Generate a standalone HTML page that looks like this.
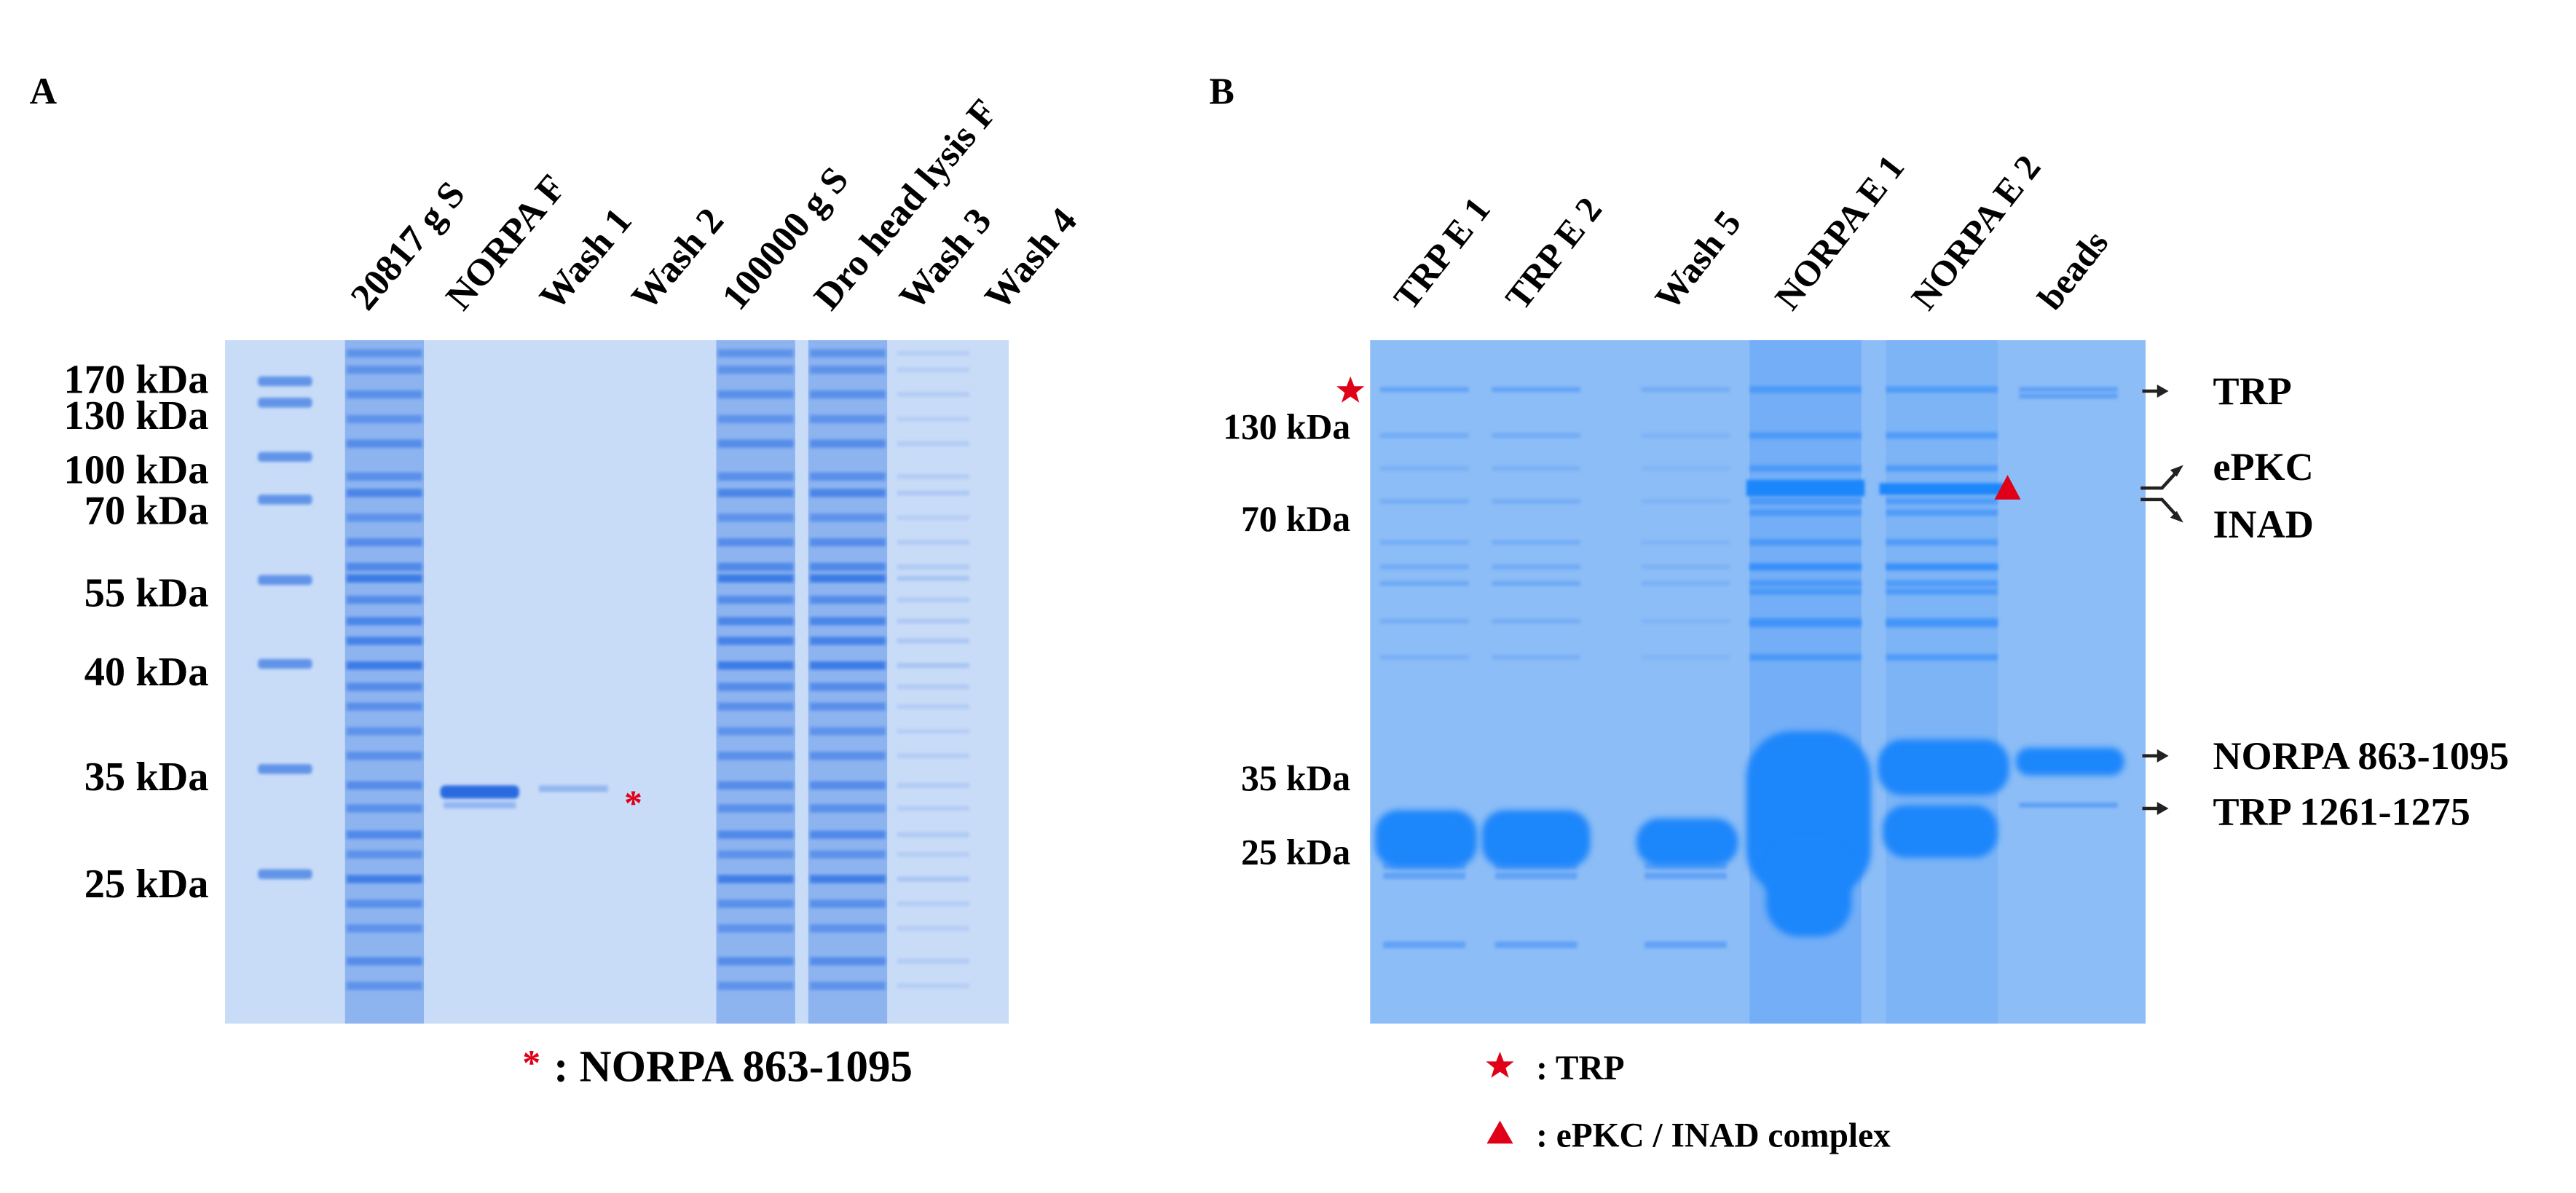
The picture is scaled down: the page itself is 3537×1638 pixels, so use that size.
<!DOCTYPE html>
<html><head><meta charset="utf-8"><style>
html,body{margin:0;padding:0;background:#fff}
svg{display:block}
text{font-family:"Liberation Serif",serif;font-weight:bold;fill:#000}
</style></head><body>
<svg id="fig" width="3537" height="1638" viewBox="0 0 1568 726" xmlns="http://www.w3.org/2000/svg">
<defs>
<filter id="blur1" x="-20%" y="-200%" width="140%" height="500%"><feGaussianBlur stdDeviation="0.9"/></filter>
<filter id="blur2" x="-20%" y="-50%" width="140%" height="200%"><feGaussianBlur stdDeviation="2"/></filter>
</defs>
<text x="18" y="63" font-size="23">A</text>
<text x="736" y="63" font-size="23">B</text>
<rect x="137" y="207" width="477" height="416" fill="#c9dcf7"/>
<rect x="834" y="207" width="472" height="416" fill="#8dbdf6"/>
<g id="gA"></g><g id="gB"></g><g id="labels"></g>
<text x="318" y="654" font-size="22" style="fill:#e00018">*</text>
<text x="337" y="658" font-size="27">: NORPA 863-1095</text>
<text x="380" y="496" font-size="22" style="fill:#e00018">*</text>
<polygon points="913,640 915.3,646 921.5,646 916.5,650 918.4,656 913,652.3 907.6,656 909.5,650 904.5,646 910.7,646" fill="#e00018"/>
<text x="935" y="657" font-size="21">: TRP</text>
<polygon points="913,682 921,696 905,696" fill="#e00018"/>
<text x="935" y="698" font-size="21">: ePKC / INAD complex</text>
<polygon points="822,229 824.3,235 830.5,235 825.5,239 827.4,245 822,241.3 816.6,245 818.5,239 813.5,235 819.7,235" fill="#e00018"/>
<polygon points="1222,289 1230,304 1214,304" fill="#e00018"/>
<g stroke="#222" stroke-width="2" fill="none">
<line x1="1304" y1="238" x2="1316" y2="238"/><line x1="1304" y1="460" x2="1316" y2="460"/><line x1="1304" y1="492" x2="1316" y2="492"/>
<path d="M1303,297 H1316 L1326,286 M1303,304 H1316 L1326,315"/>
</g>
<g fill="#222"><polygon points="1320,238 1313,234 1313,242"/><polygon points="1320,460 1313,456 1313,464"/><polygon points="1320,492 1313,488 1313,496"/><polygon points="1329,283 1321,286 1325,290"/><polygon points="1329,318 1321,315 1325,311"/></g>
<text x="1347" y="246" font-size="24">TRP</text>
<text x="1347" y="292" font-size="24">ePKC</text>
<text x="1347" y="327" font-size="24">INAD</text>
<text x="1347" y="468" font-size="24">NORPA 863-1095</text>
<text x="1347" y="502" font-size="24">TRP 1261-1275</text>
</svg>
<script>
const NS="http://www.w3.org/2000/svg";
const markerA=["170 kDa","130 kDa","100 kDa","70 kDa","55 kDa","40 kDa","35 kDa","25 kDa"];
const markerAy=[230,252,285,310,360,408,472,537];
const markerB=["130 kDa","70 kDa","35 kDa","25 kDa"];
const markerBy=[258,314,472,517];
const lanesA=["20817 g S","NORPA F","Wash 1","Wash 2","100000 g S","Dro head lysis F","Wash 3","Wash 4"];
const lanesB=["TRP E 1","TRP E 2","Wash 5","NORPA E 1","NORPA E 2","beads"];
const laneAx=[234,292,349,405,460,516,568,620];
const laneBx=[867,935,1026,1099,1182,1259];
const ladderY=[232,245,278,304,353,404,468,532];
const lysateY=[215,225,240,255,270,290,300,315,330,345,352,365,378,390,405,418,430,445,460,478,492,508,520,535,550,565,585,600];
const lysateI=[.5,.5,.55,.5,.6,.55,.7,.5,.6,.65,.85,.6,.7,.75,.85,.6,.55,.5,.55,.6,.55,.65,.5,.8,.55,.5,.6,.5];
const bgBandY=[237,265,285,305,330,345,355,378,400];
const bgBandI=[.55,.35,.25,.3,.3,.35,.4,.3,.25];
function el(tag,attrs,parent){const e=document.createElementNS(NS,tag);for(const k in attrs)e.setAttribute(k,attrs[k]);parent.appendChild(e);return e;}
const gA=document.getElementById('gA'),gB=document.getElementById('gB'),L=document.getElementById('labels');
ladderY.forEach((y,i)=>{const r=el('rect',{x:157,y:y-3,width:33,height:6,rx:2,fill:'#4f88e6',opacity:0.85,filter:'url(#blur1)'},gA);

});
[0,4,5].forEach(li=>{const cx=laneAx[li];
 const bg=el('rect',{x:cx-24,y:207,width:48,height:416,fill:'#7aa7ee',opacity:0.75},gA);
 
 
 lysateY.forEach((y,j)=>{const b=el('rect',{x:cx-23,y:y-2.5,width:46,height:5,fill:'#2f72e4',opacity:lysateI[j],filter:'url(#blur1)'},gA);
 
 });});
lysateY.forEach((y,j)=>{const b=el('rect',{x:laneAx[6]-22,y:y-1.5,width:44,height:3,fill:'#6f9ded',opacity:lysateI[j]*0.45,filter:'url(#blur1)'},gA);

});
let nb=el('rect',{x:268,y:478,width:48,height:8,rx:3,fill:'#2a6be0',filter:'url(#blur1)'},gA);


nb=el('rect',{x:270,y:488,width:44,height:4,fill:'#6f9ded',opacity:.6,filter:'url(#blur1)'},gA);


nb=el('rect',{x:328,y:478,width:42,height:4,fill:'#7aa6ee',opacity:.7,filter:'url(#blur1)'},gA);


[0,1,2].forEach(li=>{const cx=laneBx[li];
 bgBandY.forEach((y,j)=>{const b=el('rect',{x:cx-27,y:y-1.5,width:54,height:3,fill:'#3d8cf5',opacity:bgBandI[j]*(li==2?0.6:1),filter:'url(#blur1)'},gB);
 
 });
 [527,533,575].forEach(y=>{const b=el('rect',{x:cx-25,y:y-2,width:50,height:4,fill:'#3d8cf5',opacity:.55,filter:'url(#blur1)'},gB);
 
 });
 const big=el('rect',{x:cx-(li==1?33:30),y:li==2?498:493,width:li==1?66:62,height:li==2?29:35,rx:14,fill:'#1e86fb',filter:'url(#blur2)'},gB);
 
 });
[3,4].forEach(li=>{const cx=laneBx[li];
 const s=el('rect',{x:cx-34,y:207,width:68,height:416,fill:'#6aa8f6',opacity:li==3?0.7:0.45},gB);
 
 
 bgBandY.concat([298,312,345,360,380]).forEach(y=>{const b=el('rect',{x:cx-34,y:y-2,width:68,height:4,fill:'#2a88fa',opacity:.55,filter:'url(#blur1)'},gB);
 
 });});
let b=el('rect',{x:1063,y:292,width:72,height:10,fill:'#1e86fb',filter:'url(#blur1)'},gB);


b=el('rect',{x:1144,y:294,width:76,height:7,fill:'#1e86fb',filter:'url(#blur1)'},gB);


b=el('rect',{x:1063,y:445,width:76,height:100,rx:28,fill:'#1e86fb',filter:'url(#blur2)'},gB);


b=el('rect',{x:1075,y:510,width:52,height:60,rx:20,fill:'#1e86fb',filter:'url(#blur2)'},gB);


b=el('rect',{x:1143,y:450,width:80,height:34,rx:15,fill:'#1e86fb',filter:'url(#blur2)'},gB);


b=el('rect',{x:1146,y:490,width:70,height:32,rx:14,fill:'#1e86fb',filter:'url(#blur2)'},gB);


b=el('rect',{x:1227,y:455,width:66,height:17,rx:8,fill:'#1e86fb',filter:'url(#blur2)'},gB);


[237,241,490].forEach(y=>{const t=el('rect',{x:1229,y:y-1.5,width:60,height:3,fill:'#3d8cf5',opacity:.6,filter:'url(#blur1)'},gB);

});
markerA.forEach((t,i)=>{const e=el('text',{x:127,y:markerAy[i]+9,'font-size':25,'text-anchor':'end'},L);e.textContent=t;

});
markerB.forEach((t,i)=>{const e=el('text',{x:822,y:markerBy[i]+9,'font-size':22,'text-anchor':'end'},L);e.textContent=t;

});
lanesA.forEach((t,i)=>{const x=laneAx[i]-10;const e=el('text',{x:x,y:190,'font-size':23,transform:`rotate(-50 ${x} 190)`},L);e.textContent=t;

});
lanesB.forEach((t,i)=>{const x=laneBx[i]-8;const e=el('text',{x:x,y:190,'font-size':22,transform:`rotate(-52 ${x} 190)`},L);e.textContent=t;

});
</script>
</body></html>
